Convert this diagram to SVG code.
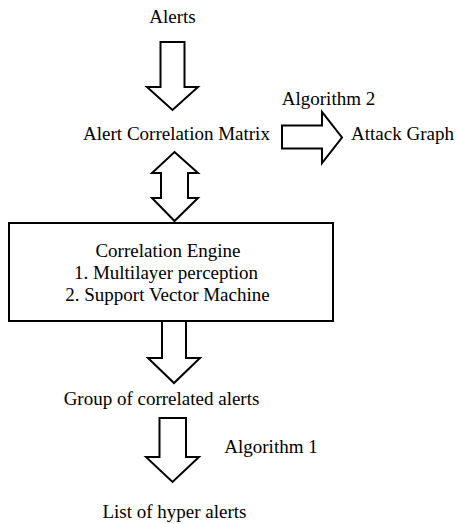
<svg xmlns="http://www.w3.org/2000/svg" width="457" height="524" viewBox="0 0 457 524">
<style>
.a{fill:#fff;stroke:#000;stroke-width:2;stroke-linejoin:miter}
.b{fill:#fff;stroke:#000;stroke-width:2}
</style>
<rect width="457" height="524" fill="#fff"/>
<g font-family="Liberation Serif, Times New Roman, serif" font-size="19" fill="#000" text-anchor="middle">
<g id="alerts"><text x="172.5" y="23">Alerts</text></g>
<g id="matrix"><text x="176.5" y="140">Alert Correlation Matrix</text></g>
<g id="attack-graph"><text x="402.5" y="140">Attack Graph</text></g>
<g id="engine">
<rect class="b" x="9" y="223" width="324" height="98"/>
<text x="168" y="257">Correlation Engine</text>
<text x="166" y="279">1. Multilayer perception</text>
<text x="167.5" y="301">2. Support Vector Machine</text>
</g>
<g id="group"><text x="161.5" y="405">Group of correlated alerts</text></g>
<g id="hyper"><text x="174.5" y="518">List of hyper alerts</text></g>
<g id="connectors">
<polygon class="a" points="160.5,42 184.5,42 184.5,87 198,87 172.5,110 147,87 160.5,87"/>
<polygon class="a" points="282,125.5 322,125.5 322,112 342,137.5 322,163 322,148.5 282,148.5"/>
<text x="328.5" y="105">Algorithm 2</text>
<polygon class="a" points="174.5,152 198,173 188,173 188,198 198,198 174.5,221 152,198 161,198 161,173 152,173"/>
<polygon class="a" points="162,321 186,321 186,358 200,358 174,383 148,358 162,358"/>
<polygon class="a" points="159.5,418 186,418 186,457 199,457 172.5,482 146,457 159.5,457"/>
<text x="271" y="453">Algorithm 1</text>
</g>
</g>
</svg>
